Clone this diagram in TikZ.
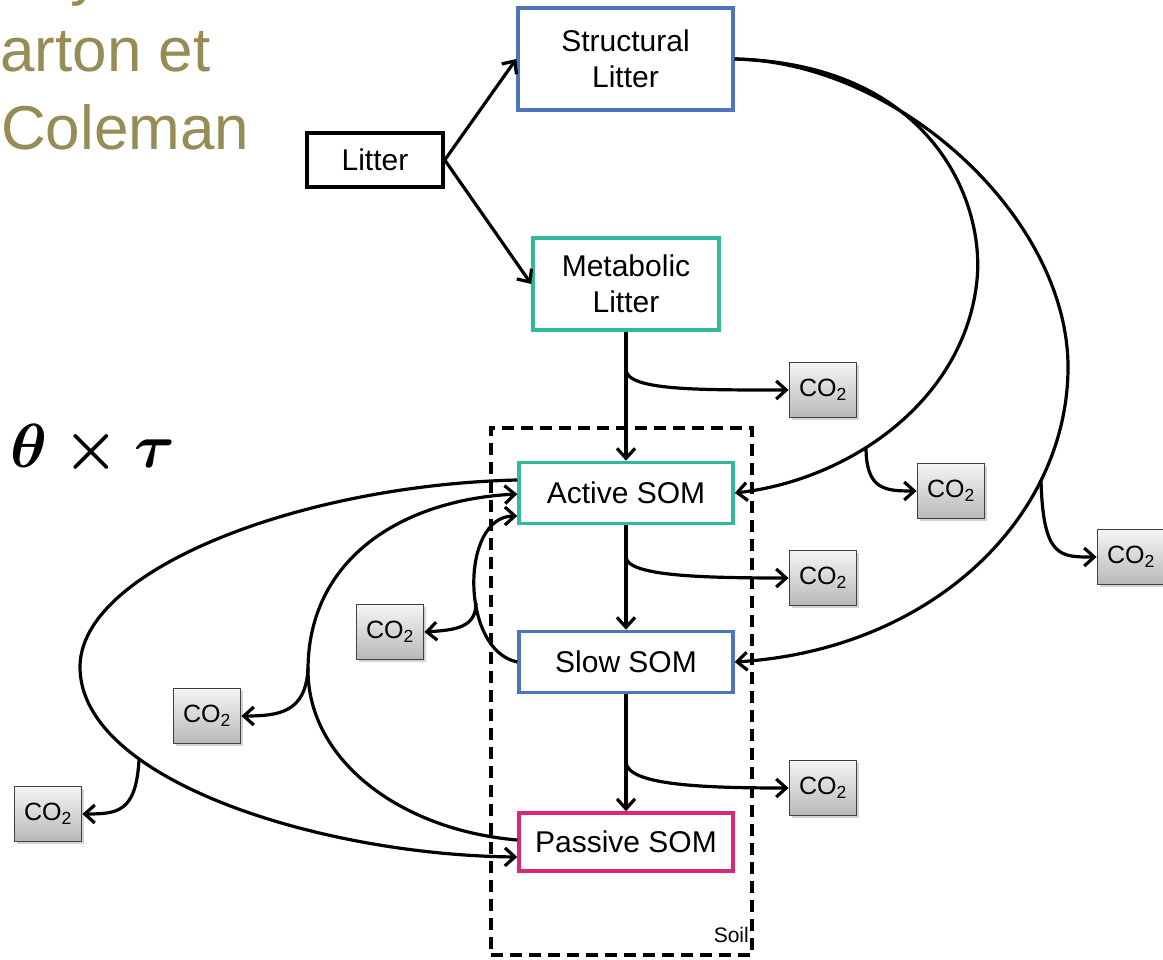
\documentclass[tikz,border=0pt]{standalone}
\usepackage{fontspec}
\setmainfont{Liberation Sans}
\usepackage{amsmath,amssymb}
\usetikzlibrary{positioning,arrows.meta,calc,shadows}
\definecolor{strucblue}{HTML}{4F74BE}
\definecolor{metateal}{HTML}{31B99B}
\definecolor{passpink}{HTML}{DE2678}
\definecolor{titleolive}{HTML}{978C56}

\begin{document}
\begin{tikzpicture}[x=1pt, y=-1pt,
    every node/.style={font=\fontsize{30}{36}\selectfont},
    pool/.style={draw, line width=3.5pt, align=center, inner sep=0pt, fill=white,
                 minimum width=214pt, minimum height=61pt},
    co2/.style={draw=black!75, line width=1.8pt, top color=black!4, bottom color=black!28,
                minimum width=67pt, minimum height=55pt, inner sep=0pt,
                drop shadow={shadow xshift=2pt, shadow yshift=-2pt, opacity=.35},
                font=\fontsize{25}{28}\selectfont},
    flow/.style={-{Straight Barb[length=10pt,width=18pt]}, line width=3.2pt},
    soilbox/.style={draw, dashed, line width=4pt, dash pattern=on 12pt off 7pt},
    titletext/.style={text=titleolive, font=\fontsize{62}{70}\selectfont, anchor=base west, inner sep=0pt},
]
  \useasboundingbox (0,0) rectangle (1163,960);
  % Title (cut off at the page edge)
  \node[titletext] (tline0) at (70,-6) {y};
  \node[titletext] (tline1) at (0,72) {arton et};
  \node[titletext] (tline2) at (1,150) {Coleman};
  \node[anchor=base west, inner sep=0pt, font=\fontsize{20.74}{24}\selectfont] (envmod) at (10,467)
       {\scalebox{3}{$\boldsymbol{\theta\times\tau}$}};
  % Soil frame
  \node[soilbox, minimum width=261pt, minimum height=527pt] (soil) at (621.5,691.5) {};
  \node[anchor=base east, inner sep=0pt, font=\fontsize{21}{22}\selectfont] (soillabel) at (749,942) {Soil};
  % Litter pools
  \node[pool, draw=black, minimum width=136pt, minimum height=54pt] (litter) at (375,160) {Litter};
  \node[pool, draw=strucblue, minimum width=215pt, minimum height=102pt] (struc) at (625.5,59) {Structural\\Litter};
  \node[pool, draw=metateal, minimum width=186pt, minimum height=92pt] (meta) at (626,284) {Metabolic\\Litter};
  % SOM pools
  \node[pool, draw=metateal] (active) at (626,493) {Active SOM};
  \node[pool, draw=strucblue] (slow) at (626,662) {Slow SOM};
  \node[pool, draw=passpink, minimum height=58pt] (passive) at (626,842) {Passive SOM};
  % Respiration
  \node[co2] (co2meta) at (823,390) {CO\textsubscript{2}};
  \node[co2] (co2struc) at (951,491) {CO\textsubscript{2}};
  \node[co2] (co2far) at (1131,557) {CO\textsubscript{2}};
  \node[co2] (co2act) at (823,578) {CO\textsubscript{2}};
  \node[co2] (co2slow) at (823,788) {CO\textsubscript{2}};
  \node[co2] (co2loop) at (390,632) {CO\textsubscript{2}};
  \node[co2] (co2mid) at (207,716) {CO\textsubscript{2}};
  \node[co2] (co2out) at (48,814) {CO\textsubscript{2}};
  % Litter split
  \draw[flow] (litter.east) -- (struc.west);
  \draw[flow] (litter.east) -- (meta.west);
  % Down the column
  \draw[flow] (meta.south) -- (active.north);
  \draw[flow] (active.south) -- (slow.north);
  \draw[flow] (slow.south) -- (passive.north);
  \coordinate (m2a) at ($(meta.south)!0.30!(active.north)$);
  \coordinate (a2s) at ($(active.south)!0.31!(slow.north)$);
  \coordinate (s2p) at ($(slow.south)!0.585!(passive.north)$);
  \draw[flow] (m2a) .. controls +(3,20) and +(-90,0) .. (co2meta.west);
  \draw[flow] (a2s) .. controls +(3,18) and +(-90,0) .. (co2act.west);
  \draw[flow] (s2p) .. controls +(3,22) and +(-90,0) .. (co2slow.west);
  % Structural litter to soil
  \draw[flow] (struc.east) .. controls (930,64) and (985,200) .. (977,280)
              .. controls (965,400) and (850,480) .. (active.east);
  \draw[flow] (struc.east) .. controls (900,62) and (1070,220) .. (1068,370)
              .. controls (1066,520) and (930,650) .. (slow.east);
  \coordinate (sa) at (866,447);
  \coordinate (ss) at (1041,480);
  \draw[flow] (sa) .. controls (866,490) and (885,491) .. (co2struc.west);
  \draw[flow] (ss) .. controls (1043,558) and (1060,557) .. (co2far.west);
  % Loops back to active SOM
  \draw[flow] ($(active.west)+(0,-13)$) .. controls (300,485) and (80,570) .. (80,667)
              .. controls (80,780) and (320,855) .. ($(passive.west)+(0,15)$);
  \draw[flow] ($(passive.west)+(0,-2)$) .. controls (400,830) and (308,760) .. (308,670)
              .. controls (308,560) and (400,500) .. ($(active.west)+(0,1)$);
  \draw[flow] (slow.west) .. controls (460,650) and (460,516) .. ($(active.west)+(0,23)$);
  \coordinate (ob) at (139,760);
  \coordinate (ib) at (308,668);
  \coordinate (lb) at (476,603);
  \draw[flow] (ob) .. controls (136,812) and (118,814) .. (co2out.east);
  \draw[flow] (ib) .. controls (306,712) and (280,716) .. (co2mid.east);
  \draw[flow] (lb) .. controls (476,628) and (455,630) .. (co2loop.east);
\end{tikzpicture}
\end{document}
